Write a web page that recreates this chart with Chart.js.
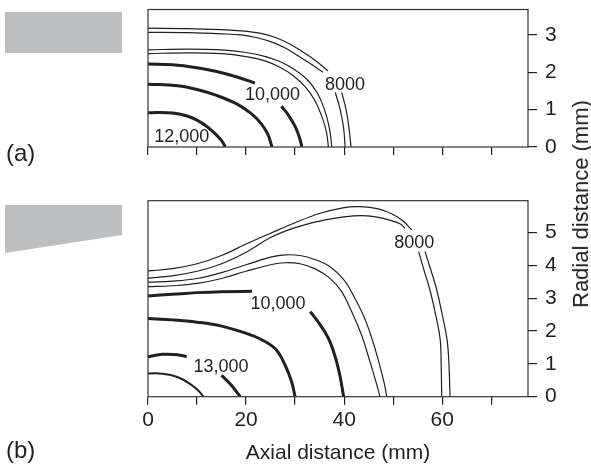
<!DOCTYPE html>
<html>
<head>
<meta charset="utf-8">
<script src="https://cdn.jsdelivr.net/npm/chart.js@4.4.1/dist/chart.umd.min.js"></script>
<style>
  html, body { margin: 0; padding: 0; background: #fff; }
  #wrap { position: relative; width: 591px; height: 467px; overflow: hidden;
          font-family: 'Liberation Sans', Arial, sans-serif; color: #231f20; }
  canvas { position: absolute; left: 0; }
  #chartA { top: 0; }
  #chartB { top: 190px; }
  .nozzle { position: absolute; left: 5px; width: 117px; background: #bcbec0; }
  #nozzleA { top: 12px; height: 41px; }
  #nozzleB { top: 205px; height: 48px; clip-path: polygon(0 0, 100% 0, 100% 62.5%, 0 100%); }
  .panel { position: absolute; left: 6px; font-size: 24px; line-height: 1; }
  #yTitle { position: absolute; left: 581px; top: 204px; font-size: 22px; line-height: 1; white-space: nowrap;
            transform: translate(-50%, -50%) rotate(-90deg); }
</style>
</head>
<body>
<div id="wrap">
  <div class="nozzle" id="nozzleA"></div>
  <div class="nozzle" id="nozzleB"></div>
  <canvas id="chartA" width="591" height="180"></canvas>
  <canvas id="chartB" width="591" height="277"></canvas>
  <div class="panel" style="top:141px">(a)</div>
  <div class="panel" style="top:438px">(b)</div>
  <div id="yTitle">Radial distance (mm)</div>
</div>
<script>
const INK = '#231f20';
const FONT = "'Liberation Sans', Arial, sans-serif";

// [axial mm, radial mm]; null radial = line broken for a label

// panel (a), cylindrical
const aPairOuter1 = [[0,3.18],[8,3.17],[15,3.14],[19,3.11],[23,3.04],[26,2.93],[29,2.75],[31.5,2.55],[34,2.33],[36.7,2.04],
                     [38,null],[39.5,1.46],[40.4,1.0],[41.0,0.5],[41.4,0]];
const aPairOuter2 = [[0,3.07],[8,3.06],[15,3.03],[19,3.0],[22,2.93],[25,2.82],[28,2.65],[30.5,2.45],[33,2.24],[35.7,2.0],
                     [37,null],[38.2,1.46],[39.2,1.0],[39.9,0.5],[40.2,0]];
const aPairInner1 = [[0,2.6],[8,2.62],[15,2.6],[20,2.53],[24,2.42],[27,2.28],[30,2.06],[32.5,1.8],[34.5,1.45],[36,1.0],[37,0.5],[37.5,0]];
const aPairInner2 = [[0,2.5],[8,2.52],[15,2.5],[20,2.42],[24,2.3],[27,2.13],[29.5,1.92],[32,1.62],[34,1.25],[35.5,0.8],[36.4,0.4],[36.8,0]];
const aThick1 = [[0,2.22],[5,2.2],[10,2.12],[14,2.02],[18,1.88],[21.8,1.71]];
const aThick2 = [[0,1.68],[6,1.64],[10,1.54],[14,1.38],[18,1.16],[21,0.9],[23,0.64],[24.4,0.35],[25.3,0]];
const aThick3 = [[0,0.92],[5,0.91],[8,0.83],[10,0.72],[12,0.55],[13.5,0.38],[15,0.17],[15.8,0]];
const aThick4 = [[27.2,1.09],[28.6,0.86],[30,0.55],[30.9,0.25],[31.4,0]];
const aLabelText = ['8000', '10,000', '12,000'];
const aLabelX = [40.2, 25.4, 6.9];
const aLabelR = [1.66, 1.39, 0.27];

// panel (b), tapered
const bPairOuter1 = [[0,3.83],[5,3.9],[10,4.05],[15,4.3],[20,4.65],[25,4.98],[30,5.3],[35,5.58],[40,5.76],[43,5.79],[47,5.72],
                     [50,5.55],[52,5.35],[53.8,5.08],[55,null],[56.5,4.42],[57.7,3.85],[58.9,3.25],[60,2.5],[61,1.73],[61.4,0.9],[61.6,0]];
const bPairOuter2 = [[0,3.61],[5,3.68],[10,3.82],[15,4.05],[20,4.4],[25,4.85],[30,5.15],[35,5.35],[40,5.48],[44.6,5.51],
                     [48,5.43],[51.4,5.27],[52.4,5.13],[54,null],[55.2,4.42],[56.3,3.85],[57.5,3.25],[58.8,2.4],[59.6,1.73],[59.8,0.9],[59.9,0]];
const bPairInner1 = [[0,3.49],[5,3.52],[10,3.6],[15,3.78],[20,4.02],[25,4.25],[28,4.32],[31,4.3],[34,4.18],[37,3.97],[40,3.55],
                     [42,3.05],[44,2.45],[45.5,1.85],[47,1.1],[48.2,0.4],[48.7,0]];
const bPairInner2 = [[0,3.35],[5,3.38],[10,3.45],[15,3.6],[20,3.82],[25,4.02],[28,4.08],[31,4.05],[34,3.9],[37,3.62],[39.5,3.2],
                     [41.5,2.6],[43.5,1.9],[45.2,1.1],[46.6,0.4],[47.3,0]];
const bThick1 = [[0,3.07],[5,3.12],[10,3.17],[15,3.2],[21.2,3.21]];
const bThick2 = [[33.1,2.59],[35.3,2.15],[37.1,1.68],[38.4,1.1],[39.2,0.6],[39.9,0]];
const bThick3 = [[0,2.38],[5,2.34],[10,2.27],[15,2.15],[20,1.93],[23,1.75],[26,1.45],[28,0.95],[29.3,0.45],[30,0]];
const bThick4 = [[0,1.22],[3,1.29],[6,1.28],[7.9,1.22]];
const bThick5 = [[15,0.65],[17,0.35],[18.8,0]];
const bMid1 = [[0,0.71],[3,0.7],[6,0.6],[8.5,0.4],[10.3,0.18],[11.3,0]];
const bLabelText = ['8000', '10,000', '13,000'];
const bLabelX = [54.3, 26.5, 14.9];
const bLabelR = [4.67, 2.83, 0.91];

const xTickValues = [0, 20, 40, 60];

function line(arr, width) {
  return {
    data: arr.map(p => ({ x: p[0], y: p[1] })),
    borderColor: INK,
    borderWidth: width,
    pointRadius: 0,
    tension: 0.4,
    fill: false,
    spanGaps: false
  };
}

const framePlugin = {
  id: 'frame',
  afterDraw(chart) {
    const { ctx, chartArea: a } = chart;
    ctx.save();
    ctx.strokeStyle = '#333';
    ctx.lineWidth = 1.2;
    ctx.strokeRect(a.left, a.top, a.right - a.left, a.bottom - a.top);
    ctx.restore();
  }
};

const contourLabels = {
  id: 'contourLabels',
  afterDatasetsDraw(chart, args, opts) {
    const { ctx, scales: { x, y } } = chart;
    ctx.save();
    ctx.font = '18px ' + FONT;
    ctx.fillStyle = INK;
    ctx.textAlign = 'center';
    ctx.textBaseline = 'middle';
    opts.text.forEach((t, i) => {
      ctx.fillText(t, x.getPixelForValue(opts.xs[i]), y.getPixelForValue(opts.ys[i]));
    });
    ctx.restore();
  }
};

function makeChart(id, datasets, yMax, padTop, xHeight, showXLabels, labels) {
  return new Chart(document.getElementById(id), {
    type: 'line',
    data: { datasets },
    options: {
      responsive: false,
      animation: false,
      layout: { padding: { left: 148, top: padTop, right: 0, bottom: 0 } },
      plugins: {
        legend: { display: false },
        tooltip: { enabled: false },
        contourLabels: labels
      },
      scales: {
        x: {
          type: 'linear',
          position: 'bottom',
          min: 0,
          max: 77.5,
          border: { display: false },
          grid: { drawOnChartArea: false, drawTicks: true, tickLength: 8, color: INK, lineWidth: 1.2 },
          ticks: {
            stepSize: 10,
            includeBounds: false,
            autoSkip: false,
            maxRotation: 0,
            padding: 3,
            color: INK,
            font: { family: FONT, size: 21 },
            callback: v => (showXLabels && xTickValues.includes(v)) ? String(v) : ''
          },
          title: {
            display: showXLabels,
            text: 'Axial distance (mm)',
            color: INK,
            font: { family: FONT, size: 21 },
            padding: { top: 4, bottom: 1 }
          },
          afterFit: s => { s.height = xHeight; s.paddingLeft = 0; s.paddingRight = 0; }
        },
        y: {
          type: 'linear',
          position: 'right',
          min: 0,
          max: yMax,
          border: { display: false },
          grid: { drawOnChartArea: false, drawTicks: true, tickLength: 9, color: INK, lineWidth: 1.2 },
          ticks: {
            stepSize: 1,
            includeBounds: false,
            padding: 8,
            color: INK,
            font: { family: FONT, size: 21 }
          },
          afterFit: s => { s.width = 63; s.paddingTop = 0; s.paddingBottom = 0; }
        }
      }
    },
    plugins: [framePlugin, contourLabels]
  });
}

makeChart('chartA', [
  line(aPairOuter1, 1.2), line(aPairOuter2, 1.2), line(aPairInner1, 1.2), line(aPairInner2, 1.2),
  line(aThick1, 3), line(aThick2, 3), line(aThick3, 3), line(aThick4, 3)
], 3.68, 9.5, 33, false, { text: aLabelText, xs: aLabelX, ys: aLabelR });

makeChart('chartB', [
  line(bPairOuter1, 1.2), line(bPairOuter2, 1.2), line(bPairInner1, 1.2), line(bPairInner2, 1.2),
  line(bThick1, 3), line(bThick2, 3), line(bThick3, 3), line(bThick4, 3), line(bThick5, 3), line(bMid1, 2)
], 5.97, 10.7, 70.3, true, { text: bLabelText, xs: bLabelX, ys: bLabelR });
</script>
</body>
</html>
